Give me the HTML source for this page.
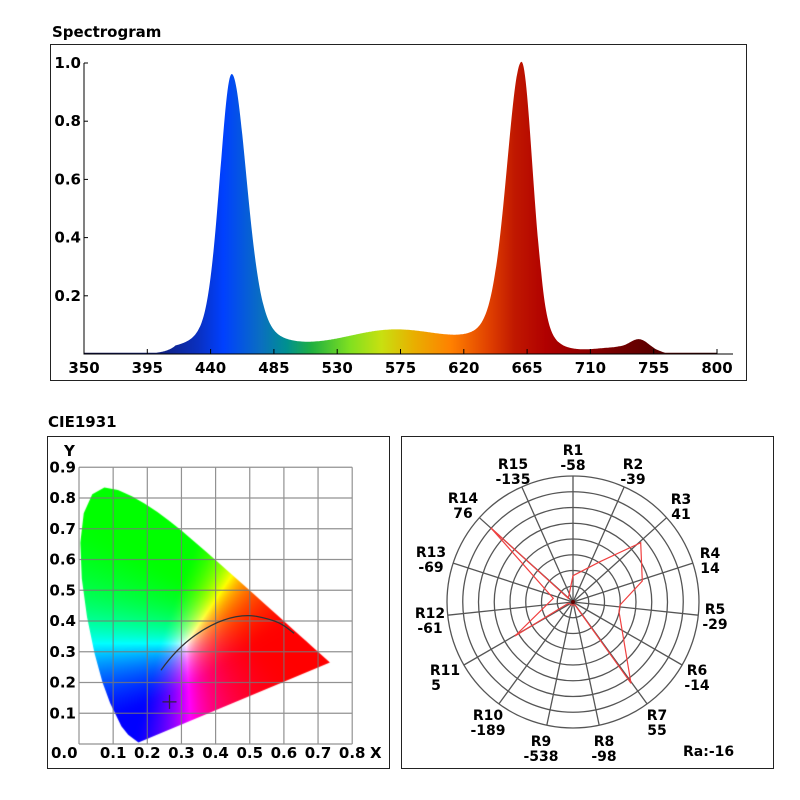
<!DOCTYPE html><html><head><meta charset="utf-8"><style>
html,body{margin:0;background:#fff;width:800px;height:800px;overflow:hidden;position:relative}
svg{display:block;position:absolute;left:0;top:0;font-family:"DejaVu Sans","Liberation Sans",sans-serif;font-weight:bold}
canvas{position:absolute;left:0;top:0}
</style></head><body>
<canvas id="cv" width="800" height="800"></canvas>
<svg id="s" width="800" height="800" xmlns="http://www.w3.org/2000/svg">
<defs>
<linearGradient id="sp" gradientUnits="userSpaceOnUse" x1="84" y1="0" x2="717" y2="0">
<stop offset="0" stop-color="#101040"/>
<stop offset="0.12" stop-color="#102080"/>
<stop offset="0.18" stop-color="#0a30c0"/>
<stop offset="0.22" stop-color="#0040ff"/>
<stop offset="0.28" stop-color="#0a6fc0"/>
<stop offset="0.32" stop-color="#009090"/>
<stop offset="0.36" stop-color="#20b040"/>
<stop offset="0.42" stop-color="#80e020"/>
<stop offset="0.47" stop-color="#c8e010"/>
<stop offset="0.52" stop-color="#e8b000"/>
<stop offset="0.58" stop-color="#ff8000"/>
<stop offset="0.64" stop-color="#e04000"/>
<stop offset="0.68" stop-color="#c01800"/>
<stop offset="0.73" stop-color="#b00000"/>
<stop offset="0.85" stop-color="#700000"/>
<stop offset="1" stop-color="#300000"/>
</linearGradient>
</defs>
<text x="52" y="37" font-size="15">Spectrogram</text>
<rect x="50.5" y="44.5" width="696" height="336" fill="none" stroke="#222"/>
<path id="spec" fill="url(#sp)"/>
<g id="sax" stroke="#000" fill="none"></g>
<g id="stx" font-size="15"></g>

<text x="48" y="427" font-size="15">CIE1931</text>
<rect x="47.5" y="436.5" width="342" height="332" fill="none" stroke="#222"/>
<g id="cie"></g>

<rect x="401.5" y="436.5" width="372" height="332" fill="none" stroke="#222"/>
<g id="pol"></g>
</svg>
<script>
var NS="http://www.w3.org/2000/svg";
function el(p,t,a,txt){var e=document.createElementNS(NS,t);for(var k in a)e.setAttribute(k,a[k]);if(txt!=null)e.textContent=txt;p.appendChild(e);return e;}
function pk(x,c,h,sl,sr,w){var s=x<c?sl:sr;var d=(x-c)/s;return h*((1-w)*Math.exp(-d*d/2)+w/(1+d*d/2));}
function f(x){
 var v=pk(x,455,0.96,8.5,10.5,0.35)+pk(x,661,1.0,10.5,8,0.35)+0.07*Math.exp(-Math.pow((x-570)/35,2)/2)+0.04*Math.exp(-Math.pow((x-745)/7,2)/2)+0.015*Math.exp(-Math.pow((x-720)/15,2)/2);
 if(x<415)v*=Math.exp(-(415-x)/10);
 if(x>760)v*=Math.exp(-(x-760)/8);
 if(x>675&&x<730)v*=1-0.5*Math.sin((x-675)/55*Math.PI);
 return Math.max(v,0.004);
}
var X=function(n){return 84+(n-350)*63.3/45},Y=function(v){return 354-v*291};
var d="M84,354";for(var n=350;n<=800;n+=0.5)d+="L"+X(n).toFixed(1)+","+Y(f(n)).toFixed(1);d+="L717,354Z";
document.getElementById('spec').setAttribute('d',d);
var ax=document.getElementById('sax'),tx=document.getElementById('stx');
el(ax,'path',{d:"M84,63V354H733"});
for(var i=0;i<=10;i++){var n=350+45*i,x=X(n);if(n<=800){el(ax,'path',{d:"M"+x+",354v-5"});el(tx,'text',{x:x,y:373,'text-anchor':'middle'},n);}}
[1.0,0.8,0.6,0.4,0.2].forEach(function(v){var y=Y(v);el(ax,'path',{d:"M84,"+y+"h4"});el(tx,'text',{x:81,y:y+5,'text-anchor':'end'},v.toFixed(1));});
var C=document.getElementById('cie');
var cx=function(v){return 79+v*341.5},cy=function(v){return 744-v*307.5};
var loc=[[0.1741,0.005],[0.1440,0.0297],[0.1241,0.0578],[0.0913,0.1327],[0.0687,0.2007],[0.0454,0.2950],[0.0235,0.4127],[0.0082,0.5384],[0.0039,0.6548],[0.0139,0.7502],[0.0389,0.8120],[0.0743,0.8338],[0.1142,0.8262],[0.1547,0.8059],[0.1929,0.7816],[0.2296,0.7543],[0.2658,0.7243],[0.3016,0.6923],[0.3373,0.6589],[0.3731,0.6245],[0.4087,0.5896],[0.4441,0.5547],[0.4788,0.5202],[0.5125,0.4866],[0.5448,0.4544],[0.5752,0.4242],[0.6029,0.3965],[0.6270,0.3725],[0.6482,0.3514],[0.6658,0.3340],[0.6801,0.3197],[0.6915,0.3083],[0.7006,0.2993],[0.7079,0.2920],[0.7347,0.2653]];
var cv=document.getElementById('cv').getContext('2d');
cv.beginPath();loc.forEach(function(p,i){var a=cx(p[0]),b=cy(p[1]);if(i)cv.lineTo(a,b);else cv.moveTo(a,b);});cv.closePath();
cv.save();cv.clip();
var x0=75,y0=480,w=260,h=268,img=cv.createImageData(w,h);
function g(c){c=Math.max(0,c);return c<=0.0031308?12.92*c:1.055*Math.pow(c,1/2.4)-0.055;}
for(var j=0;j<h;j++)for(var i=0;i<w;i++){
 var xx=(x0+i-79)/341.5,yy=(744-(y0+j))/307.5;if(yy<=0.001)yy=0.001;
 var XX=xx/yy,YY=1,ZZ=(1-xx-yy)/yy;
 var r=3.2406*XX-1.5372*YY-0.4986*ZZ,gg=-0.9689*XX+1.8758*YY+0.0415*ZZ,b=0.0557*XX-0.2040*YY+1.0570*ZZ;
 r=Math.max(r,0);gg=Math.max(gg,0);b=Math.max(b,0);var m=Math.max(r,gg,b)||1;
 var P2=3.2;
 var k=(j*w+i)*4;img.data[k]=255*g(Math.pow(r/m,P2));img.data[k+1]=255*g(Math.pow(gg/m,P2));img.data[k+2]=255*g(Math.pow(b/m,P2));img.data[k+3]=255;}
var tmp=document.createElement('canvas');tmp.width=w;tmp.height=h;tmp.getContext('2d').putImageData(img,0,0);
cv.drawImage(tmp,x0,y0);cv.restore();
var g2=el(C,'g',{stroke:'#777','stroke-width':1.2,fill:'none',opacity:0.8});
for(var i=0;i<=8;i++)el(g2,'path',{d:"M"+cx(i/10)+","+cy(0)+"V"+cy(0.9)});
for(var i=0;i<=9;i++)el(g2,'path',{d:"M"+cx(0)+","+cy(i/10)+"H"+cx(0.8)});
el(C,'path',{d:"M"+cx(0.24)+","+cy(0.24)+"C"+cx(0.33)+","+cy(0.38)+" "+cx(0.45)+","+cy(0.43)+" "+cx(0.52)+","+cy(0.415)+"S"+cx(0.6)+","+cy(0.385)+" "+cx(0.63)+","+cy(0.36),stroke:'#333',fill:'none','stroke-width':1.3});
el(C,'path',{d:"M"+(cx(0.265)-7)+","+cy(0.137)+"h14M"+cx(0.265)+","+(cy(0.137)-7)+"v14",stroke:'#302040','stroke-width':1.3});
var ct=el(C,'g',{'font-size':15});
for(var i=0;i<=8;i++)el(ct,'text',{x:cx(i/10)+(i==0?-28:0),y:758,'text-anchor':i==0?'start':'middle'},(i/10).toFixed(1));
el(ct,'text',{x:370,y:758},'X');
for(var i=1;i<=9;i++)el(ct,'text',{x:76,y:cy(i/10)+5,'text-anchor':'end'},(i/10).toFixed(1));
el(ct,'text',{x:64,y:456},'Y');
var P=document.getElementById('pol'),ox=573,oy=602;
var pg=el(P,'g',{stroke:'#555','stroke-width':1.3,fill:'none'});
for(var i=1;i<=8;i++)el(pg,'circle',{cx:ox,cy:oy,r:15.75*i});
for(var i=0;i<15;i++){var a=i*24*Math.PI/180;el(pg,'path',{d:"M"+ox+","+oy+"L"+(ox+126*Math.sin(a)).toFixed(1)+","+(oy-126*Math.cos(a)).toFixed(1)});}
var zp=[[519,437],[600,395],[722,338],[727,453],[660,525],[657,545],[693,760],[525,525],[515,525],[510,522],[505,520],[345,618],[460,505],[272,293],[505,505]];
el(P,'polygon',{points:zp.map(function(p){return(400+p[0]/3).toFixed(1)+","+(430+p[1]/3).toFixed(1)}).join(" "),fill:'none',stroke:'#f04040','stroke-width':1.2});
el(P,'circle',{cx:ox,cy:oy,r:2,fill:'#600'});
var lab=[["R1","-58",573,455],["R2","-39",633,469],["R3","41",681,504],["R4","14",710,558],["R5","-29",715,614],["R6","-14",697,675],["R7","55",657,720],["R8","-98",604,746],["R9","-538",541,746],["R10","-189",488,720],["R11","5",445,675],["R12","-61",430,618],["R13","-69",431,557],["R14","76",463,503],["R15","-135",513,469]];
var lg=el(P,'g',{'font-size':14,'text-anchor':'middle'});
lab.forEach(function(l){el(lg,'text',{x:l[2],y:l[3]},l[0]);el(lg,'text',{x:l[0]=="R11"?l[2]-9:l[2],y:l[3]+15},l[1]);});
el(P,'text',{x:683,y:756,'font-size':14},'Ra:-16');
</script>
</body></html>
